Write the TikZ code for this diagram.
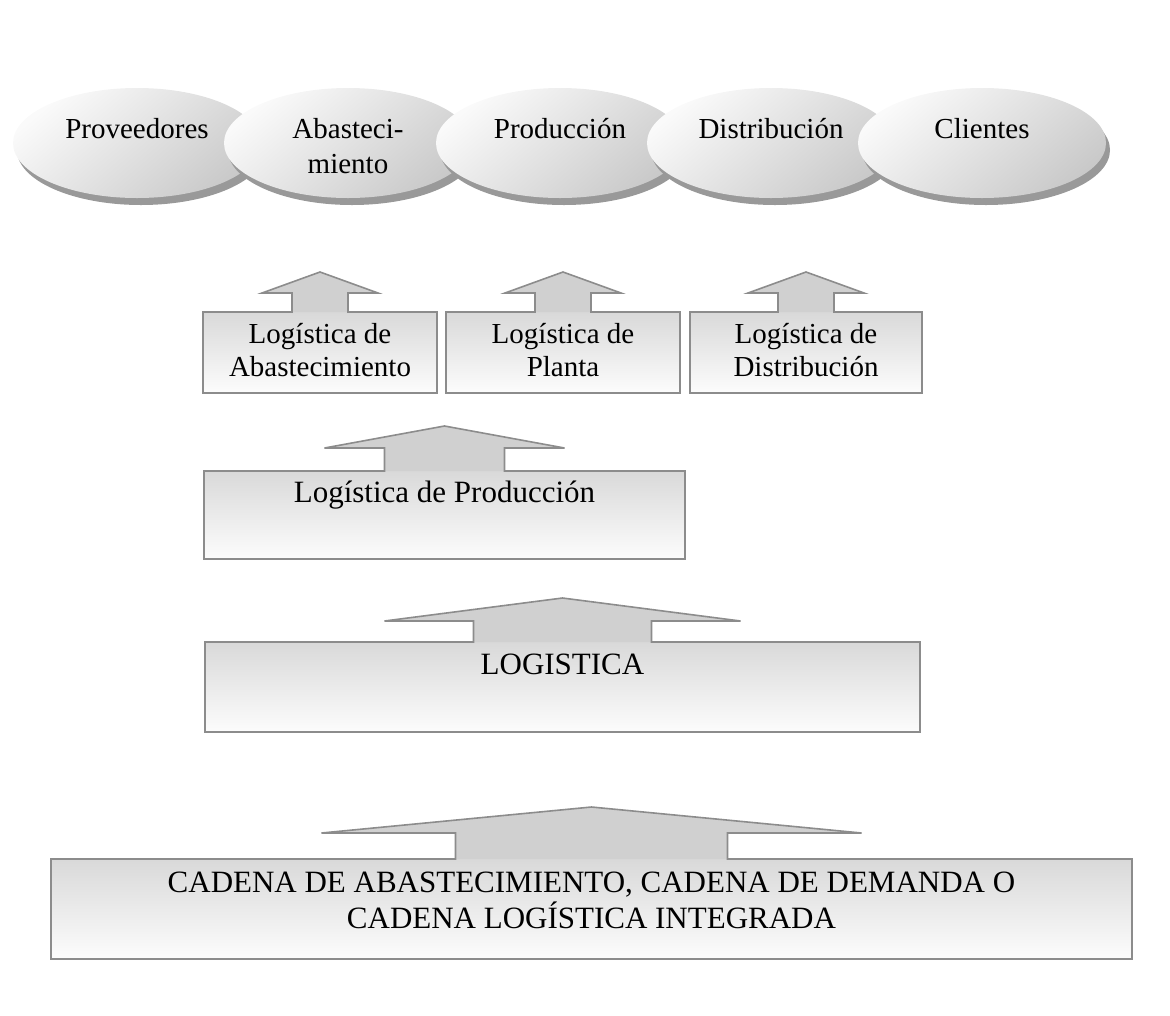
\documentclass[tikz,border=0pt]{standalone}
\usepackage{fontspec}
\setmainfont{Liberation Serif}
\usetikzlibrary{shapes.geometric,shadows}

\definecolor{bordegris}{HTML}{8C8C8C}
\definecolor{flechagris}{HTML}{D0D0D0}

% Flecha hacia arriba sobre una caja:
% #1 caja, #2 medio ancho de la punta, #3 medio ancho del tallo,
% #4 alto del tallo, #5 alto total hasta la punta
\newcommand{\flechaarriba}[5]{%
  \fill[flechagris] ([xshift=-#3pt]#1.north) -- ([shift={(-#3pt,#4pt)}]#1.north)
    -- ([shift={(-#2pt,#4pt)}]#1.north) -- ([yshift=#5pt]#1.north)
    -- ([shift={(#2pt,#4pt)}]#1.north) -- ([shift={(#3pt,#4pt)}]#1.north)
    -- ([xshift=#3pt]#1.north) -- cycle;
  \draw[contorno] (#1.south west) -- (#1.north west) -- ([xshift=-#3pt]#1.north)
    -- ([shift={(-#3pt,#4pt)}]#1.north) -- ([shift={(-#2pt,#4pt)}]#1.north)
    -- ([yshift=#5pt]#1.north) -- ([shift={(#2pt,#4pt)}]#1.north)
    -- ([shift={(#3pt,#4pt)}]#1.north) -- ([xshift=#3pt]#1.north)
    -- (#1.north east) -- (#1.south east) -- cycle;
}

\tikzset{
  etapa/.style={ellipse, minimum width=248pt, minimum height=110pt, inner sep=0pt,
    outer sep=0pt, top color=gray!4, bottom color=gray!42, shading angle=40,
    drop shadow={shadow xshift=4pt, shadow yshift=-7pt, fill=gray!80, opacity=1}},
  caja/.style={rectangle, inner sep=0pt, outer sep=0pt, top color=gray!30, bottom color=gray!2},
  contorno/.style={draw=bordegris, line width=1.6pt},
  rotulo/.style={inner sep=0pt, anchor=north, align=center, font=\fontsize{29}{35}\selectfont},
  rotulocaja/.style={inner sep=0pt, anchor=north, align=center, font=\fontsize{29}{33}\selectfont},
  rotulogrande/.style={inner sep=0pt, anchor=north, align=center, font=\fontsize{31}{36}\selectfont}
}

\begin{document}
\begin{tikzpicture}[x=1pt, y=-1pt]
\useasboundingbox (0,0) rectangle (1170,1015);

% Etapas de la cadena (de izquierda a derecha)
\node[etapa] (prov) at (137,143) {};
\node[rotulo] (t-prov) at ([yshift=25pt]prov.center) {Proveedores};
\node[etapa] (abast) at (348,143) {};
\node[rotulo] (t-abast) at ([yshift=25pt]abast.center) {Abasteci-\\miento};
\node[etapa] (prod) at (560,143) {};
\node[rotulo] (t-prod) at ([yshift=25pt]prod.center) {Producción};
\node[etapa] (dist) at (771,143) {};
\node[rotulo] (t-dist) at ([yshift=25pt]dist.center) {Distribución};
\node[etapa] (cli) at (982,143) {};
\node[rotulo] (t-cli) at ([yshift=25pt]cli.center) {Clientes};

% Cajas pequeñas
\node[caja, minimum width=234pt, minimum height=81pt] (logabast) at (320,352.5) {};
\flechaarriba{logabast}{58}{28}{19}{40}
\node[rotulocaja] (t-logabast) at ([yshift=-11pt]logabast.north) {Logística de\\Abastecimiento};

\node[caja, minimum width=234pt, minimum height=81pt] (logplanta) at (563,352.5) {};
\flechaarriba{logplanta}{58}{28}{19}{40}
\node[rotulocaja] (t-logplanta) at ([yshift=-11pt]logplanta.north) {Logística de\\Planta};

\node[caja, minimum width=232pt, minimum height=81pt] (logdist) at (806,352.5) {};
\flechaarriba{logdist}{58}{28}{19}{40}
\node[rotulocaja] (t-logdist) at ([yshift=-11pt]logdist.north) {Logística de\\Distribución};

% Logística de producción
\node[caja, minimum width=481pt, minimum height=88pt] (logprod) at (444.5,515) {};
\flechaarriba{logprod}{120}{60}{23}{45}
\node[rotulogrande] (t-logprod) at ([yshift=-10pt]logprod.north) {Logística de Producción};

% Logística
\node[caja, minimum width=715pt, minimum height=90pt] (logistica) at (562.5,687) {};
\flechaarriba{logistica}{178}{89}{21}{44}
\node[rotulogrande] (t-logistica) at ([yshift=-11.5pt]logistica.north) {LOGISTICA};

% Cadena
\node[caja, minimum width=1081pt, minimum height=100pt] (cadena) at (591.5,909) {};
\flechaarriba{cadena}{270}{136}{26}{52}
\node[rotulogrande] (t-cadena) at ([yshift=-12.5pt]cadena.north) {CADENA DE ABASTECIMIENTO, CADENA DE DEMANDA O\\CADENA LOGÍSTICA INTEGRADA};
\end{tikzpicture}
\end{document}
